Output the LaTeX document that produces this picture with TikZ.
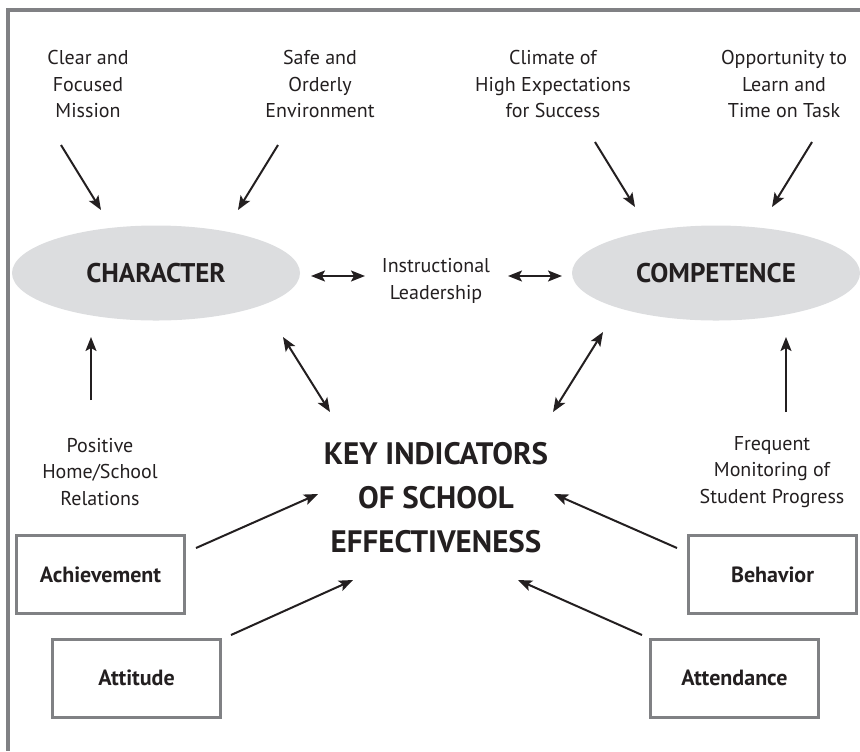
\documentclass[tikz,border=0pt]{standalone}
\usepackage{fontspec}
\setmainfont{PT Sans}
\usetikzlibrary{arrows.meta,positioning,shapes.geometric}
\definecolor{ink}{RGB}{35,31,32}
\definecolor{oval}{RGB}{220,221,223}
\definecolor{rim}{RGB}{128,129,132}

\begin{document}
\begin{tikzpicture}[x=0.5pt,y=-0.5pt,>={Stealth[length=7pt,width=5.5pt,inset=1.5pt]},
		note/.style={align=center,text=ink,font=\fontsize{10}{13.25}\selectfont},
		trait/.style={ellipse,fill=oval,text=ink,minimum width=144pt,minimum height=47.5pt,inner sep=0pt,font=\bfseries\fontsize{13.5}{15}\selectfont},
		indic/.style={draw=rim,line width=1.5pt,text=ink,minimum width=84pt,minimum height=39pt,inner sep=0pt,font=\bfseries\fontsize{11}{13}\selectfont},
		link/.style={ink,line width=1pt}]
		\useasboundingbox (0,0) rectangle (860,751);
		% open frame: top and left only
		\draw[rim,line width=2.4pt] (860,10) -- (8,10) -- (8,751);

		% the two ovals and the middle
		\node[trait] (char) at (156,273) {CHARACTER};
		\node[trait] (comp) at (716,273) {COMPETENCE};
		\node[note] (lead) at (436,281) {Instructional\\Leadership};
		\node[align=center,text=ink,font=\bfseries\fontsize{15.5}{22}\selectfont] (key) at (436,498) {KEY INDICATORS\\OF SCHOOL\\EFFECTIVENESS};

		% correlates
		\node[note] (mission) at (88,84) {Clear and\\Focused\\Mission};
		\node[note] (safe) at (320,84) {Safe and\\Orderly\\Environment};
		\node[note] (climate) at (553,84) {Climate of\\High Expectations\\for Success};
		\node[note] (opp) at (784,84) {Opportunity to\\Learn and\\Time on Task};
		\node[note] (home) at (100,472) {Positive\\Home/School\\Relations};
		\node[note] (monit) at (772,472) {Frequent\\Monitoring of\\Student Progress};

		% indicators
		\node[indic] (ach) at (100.5,574.5) {Achievement};
		\node[indic] (att) at (136.5,678) {Attitude};
		\node[indic] (beh) at (772.5,574.5) {Behavior};
		\node[indic] (attd) at (734.5,678) {Attendance};

		% arrow ends
		\coordinate (mission-a) at (61,145);  \coordinate (mission-b) at (101,210);
		\coordinate (safe-a) at (278,145);    \coordinate (safe-b) at (238,210);
		\coordinate (climate-a) at (595,142); \coordinate (climate-b) at (635,207);
		\coordinate (opp-a) at (812,142);     \coordinate (opp-b) at (772,207);
		\coordinate (home-a) at (91,400);     \coordinate (home-b) at (91,337);
		\coordinate (monit-a) at (786,412);   \coordinate (monit-b) at (786,337);
		\coordinate (lead-l) at (311,276);    \coordinate (lead-la) at (365,276);
		\coordinate (lead-r) at (562,276);    \coordinate (lead-ra) at (508,276);
		\coordinate (char-k) at (283,337);    \coordinate (key-c) at (330,412);
		\coordinate (comp-k) at (603,332);    \coordinate (key-m) at (553,412);
		\coordinate (ach-a) at (196,548);     \coordinate (ach-b) at (318,494);
		\coordinate (att-a) at (231,635);     \coordinate (att-b) at (353,580);
		\coordinate (beh-a) at (677,548);     \coordinate (beh-b) at (554,494);
		\coordinate (attd-a) at (642,635);    \coordinate (attd-b) at (518,580);

		\path[link,->]
			(mission-a) edge (mission-b)
			(safe-a) edge (safe-b)
			(climate-a) edge (climate-b)
			(opp-a) edge (opp-b)
			(home-a) edge (home-b)
			(monit-a) edge (monit-b)
			(ach-a) edge (ach-b)
			(att-a) edge (att-b)
			(beh-a) edge (beh-b)
			(attd-a) edge (attd-b);
		\path[link,<->]
			(lead-l) edge (lead-la)
			(lead-r) edge (lead-ra)
			(char-k) edge (key-c)
			(comp-k) edge (key-m);
	\end{tikzpicture}
\end{document}
